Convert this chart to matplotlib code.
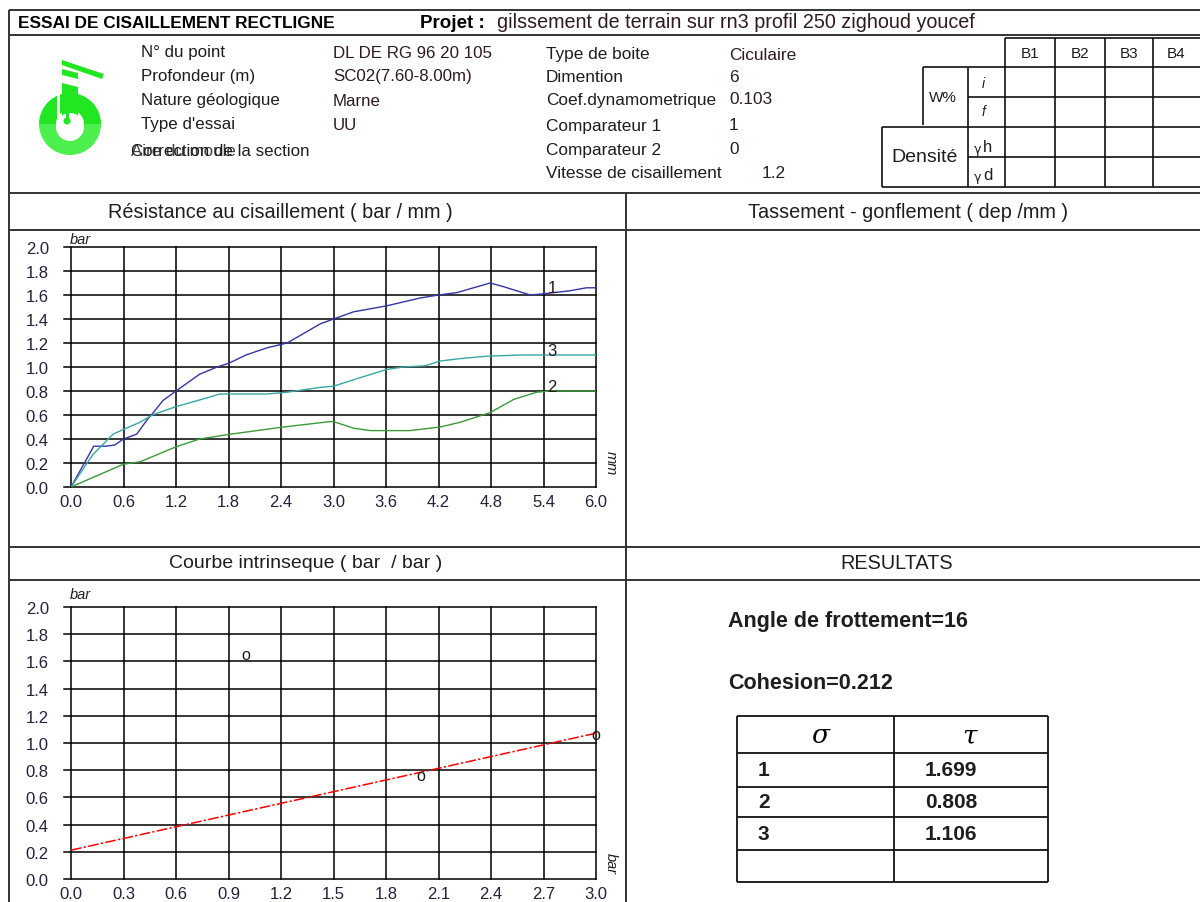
import numpy as np
import matplotlib.pyplot as plt
from matplotlib.patches import Wedge, Circle, Polygon, Rectangle

plt.rcParams['font.family'] = ['Liberation Sans', 'DejaVu Sans']

W, H = 1200, 903

# shear stress (bar) vs horizontal displacement (mm), one curve per sample
disp_1 = [0.0, 0.26, 0.4, 0.5, 0.6, 0.75, 0.88, 0.93, 1.05, 1.2, 1.47, 1.67, 1.8, 2.0, 2.24,
          2.47, 2.85, 3.0, 3.23, 3.61, 3.99, 4.2, 4.41, 4.79, 4.94, 5.25, 5.4, 5.7, 5.89, 6.0]
tau_1 = [0.0, 0.34, 0.34, 0.35, 0.40, 0.44, 0.57, 0.61, 0.72, 0.80, 0.94, 1.00, 1.03, 1.10, 1.16,
         1.20, 1.36, 1.40, 1.46, 1.51, 1.575, 1.60, 1.62, 1.70, 1.67, 1.60, 1.61, 1.635, 1.66, 1.66]
disp_2 = [0.0, 0.6, 0.79, 1.2, 1.47, 1.82, 2.43, 2.96, 3.0, 3.23, 3.42, 3.87, 4.22, 4.45,
          4.79, 5.06, 5.32, 5.49, 6.0]
tau_2 = [0.0, 0.19, 0.21, 0.335, 0.40, 0.44, 0.50, 0.545, 0.545, 0.49, 0.47, 0.47, 0.50, 0.54,
         0.62, 0.73, 0.79, 0.80, 0.80]
disp_3 = [0.0, 0.25, 0.48, 0.6, 0.79, 0.93, 1.2, 1.47, 1.7, 2.24, 2.47, 2.85, 3.0, 3.3, 3.61,
          3.8, 4.05, 4.22, 4.45, 4.75, 5.14, 6.0]
tau_3 = [0.0, 0.27, 0.44, 0.48, 0.54, 0.60, 0.67, 0.725, 0.775, 0.775, 0.79, 0.83, 0.84, 0.91,
         0.98, 1.0, 1.01, 1.05, 1.07, 1.09, 1.10, 1.10]

# intrinsic curve
sigma_pts = [1.0, 2.0, 3.0]
tau_pts = [1.699, 0.808, 1.106]
cohesion = 0.212
friction_angle = 16

shear_xticks = [0.0, 0.6, 1.2, 1.8, 2.4, 3.0, 3.6, 4.2, 4.8, 5.4, 6.0]
intr_xticks = [0.0, 0.3, 0.6, 0.9, 1.2, 1.5, 1.8, 2.1, 2.4, 2.7, 3.0]
stress_yticks = [0.0, 0.2, 0.4, 0.6, 0.8, 1.0, 1.2, 1.4, 1.6, 1.8, 2.0]

info_left = ["N° du point", "Profondeur (m)", "Nature géologique", "Type d'essai"]
info_left_vals = ["DL DE RG 96 20 105", "SC02(7.60-8.00m)", "Marne", "UU"]
info_right = ["Type de boite", "Dimention", "Coef.dynamometrique", "Comparateur 1",
              "Comparateur 2", "Vitesse de cisaillement"]
info_right_vals = ["Ciculaire", "6", "0.103", "1", "0", "1.2"]
box_cols = ["B1", "B2", "B3", "B4"]

TXT = '#1e1e1e'
VAL = '#2e1c1c'
LINE = '#333333'

fig = plt.figure(figsize=(W / 100, H / 100), dpi=100)
bg = fig.add_axes([0, 0, 1, 1])
bg.set_xlim(0, W)
bg.set_ylim(H, 0)
bg.axis('off')


def hline(y, x0, x1, lw=1.1, c=LINE):
    bg.plot([x0, x1], [y, y], color=c, lw=lw, solid_capstyle='butt')


def vline(x, y0, y1, lw=1.1, c=LINE):
    bg.plot([x, x], [y0, y1], color=c, lw=lw, solid_capstyle='butt')


def label(x, y, s, size=12.2, **kw):
    kw.setdefault('va', 'center')
    kw.setdefault('color', TXT)
    bg.text(x, y, s, fontsize=size, **kw)


# frame
vline(9, 11, H, lw=1.4)
hline(11, 9, W, lw=1.4)
hline(36, 9, W, lw=1.4)
hline(194, 9, W, lw=1.4)
hline(231, 9, W, lw=1.4)
hline(548, 9, W, lw=1.4)
hline(581, 9, W, lw=1.4)
vline(626, 194, H, lw=1.4)

label(18, 23, "ESSAI DE CISAILLEMENT RECTLIGNE", size=12.4, fontweight='bold', color='black')
label(420, 23, "Projet :", size=13.5, fontweight='bold', color='black')
label(497, 23, "gilssement de terrain sur rn3 profil 250 zighoud youcef", size=14.2, color=VAL)

# logo
bg.add_patch(Wedge((70, 125), 31, 180, 360, width=17, color='#22e622', lw=0))
bg.add_patch(Wedge((70, 125), 31, 0, 180, width=17, color='#4def4d', lw=0))
bg.add_patch(Polygon([(62, 84), (78, 88), (78, 122), (62, 122)], color='#22e622', lw=0))
bg.add_patch(Rectangle((57, 96), 2.5, 24, color='white', lw=0))
bg.add_patch(Polygon([(62, 61), (62, 66), (102, 80), (104, 75)], color='#22e622', lw=0))
bg.add_patch(Polygon([(62, 70), (62, 76), (78, 80), (78, 74)], color='#22e622', lw=0))
bg.add_patch(Circle((70, 128), 14, color='white', lw=0))
bg.add_patch(Circle((67, 122), 3.5, color='#22e622', lw=0))
bg.add_patch(Rectangle((65.5, 113), 3, 8, color='#22e622', lw=0))

for i, (lab, val) in enumerate(zip(info_left, info_left_vals)):
    y = 53 + i * 24
    label(141, y, lab)
    label(333, y, val, color=VAL)
label(131, 151, "Correction de la section")
label(131, 151, "Aire du moule", alpha=0.85)

right_y = [55, 78, 100, 126, 150, 174]
for lab, val, y in zip(info_right, info_right_vals, right_y):
    label(546, y, lab, size=12.4)
    label(762 if lab.startswith("Vitesse") else 729, y, val, size=12.4, color=VAL)

# W% / densité table
col_x = [1005, 1055, 1105, 1153, 1200]
for x in col_x[:-1]:
    vline(x, 39, 188, lw=1.2, c='#111111')
hline(39, 1005, W, lw=1.2, c='#111111')
hline(68, 923, W, lw=1.2, c='#111111')
hline(98, 968, W, lw=1.2, c='#111111')
hline(128, 882, W, lw=1.2, c='#111111')
hline(158, 968, W, lw=1.2, c='#111111')
hline(188, 882, W, lw=1.2, c='#111111')
vline(923, 68, 126, lw=1.2, c='#111111')
vline(968, 68, 188, lw=1.2, c='#111111')
vline(882, 128, 188, lw=1.2, c='#111111')
for x0, x1, b in zip(col_x[:-1], col_x[1:], box_cols):
    label((x0 + x1) / 2, 54, b, size=11, ha='center')
label(929, 98, "W%", size=11)
label(983, 84, "i", size=10, style='italic', ha='center')
label(983, 112, "f", size=10, style='italic', ha='center')
label(925, 158, "Densité", size=14, ha='center')
label(978, 143, "γ", size=9, ha='center', va='top', family='DejaVu Sans')
label(988, 147, "h", size=12, ha='center')
label(978, 171, "γ", size=9, ha='center', va='top', family='DejaVu Sans')
label(988, 175, "d", size=12, ha='center')

# section titles
label(280, 213, "Résistance au cisaillement ( bar / mm )", size=14.3, ha='center')
label(908, 213, "Tassement - gonflement ( dep /mm )", size=14.3, ha='center')
label(306, 564, "Courbe intrinseque ( bar  / bar )", size=14, ha='center')
label(897, 564, "RESULTATS", size=14.3, ha='center')


def chart(x0, y0, x1, y1, xticks):
    ax = fig.add_axes([x0 / W, 1 - y1 / H, (x1 - x0) / W, (y1 - y0) / H])
    ax.set_xlim(xticks[0], xticks[-1])
    ax.set_ylim(0, 2)
    ax.patch.set_alpha(0)
    for s in ax.spines.values():
        s.set_visible(False)
    ext = 7.0 / (x1 - x0) * (xticks[-1] - xticks[0])
    for x in xticks:
        ax.plot([x, x], [0, 2], color='black', lw=1.1, clip_on=False, zorder=1)
    for y in stress_yticks:
        ax.plot([xticks[0] - ext, xticks[-1]], [y, y], color='black', lw=1.1, clip_on=False, zorder=1)
    ax.set_xticks(xticks)
    ax.set_xticklabels([f"{v:.1f}" for v in xticks])
    ax.set_yticks(stress_yticks)
    ax.set_yticklabels([f"{v:.1f}" for v in stress_yticks])
    ax.tick_params(axis='y', length=0, labelsize=12, labelcolor='#22223a', pad=16)
    ax.tick_params(axis='x', length=0, labelsize=12, labelcolor='#22223a', pad=5)
    return ax


ax1 = chart(71, 248, 596, 488, shear_xticks)
ax1.plot(disp_1, tau_1, color='#3535a5', lw=1.0, zorder=3)
ax1.plot(disp_2, tau_2, color='#3a9a3a', lw=1.0, zorder=3)
ax1.plot(disp_3, tau_3, color='#3aa5a5', lw=1.0, zorder=3)
for name, d, t in (("1", disp_1, tau_1), ("2", disp_2, tau_2), ("3", disp_3, tau_3)):
    ax1.text(5.5, np.interp(5.5, d, t) + 0.04, name, fontsize=12, ha='center', va='center',
             color='#2a1a1a', zorder=4)
label(70, 240, "bar", size=10.5, style='italic')
label(611, 463, "mm", size=10.5, style='italic', rotation=-90, ha='center')

ax2 = chart(71, 608, 596, 880, intr_xticks)
xs = np.array([intr_xticks[0], intr_xticks[-1]])
ax2.plot(xs, cohesion + xs * np.tan(np.radians(friction_angle)), color='red', lw=1.1,
         dashes=(7, 1.5, 1.5, 1.5), zorder=3)
for s, t in zip(sigma_pts, tau_pts):
    ax2.text(s, t - 0.045, "o", fontsize=11.5, ha='center', va='center', color='#1a1a1a', zorder=4)
label(70, 595, "bar", size=10.5, style='italic')
label(611, 864, "bar", size=10.5, style='italic', rotation=-90, ha='center')

# results
label(728, 622, "Angle de frottement=16", size=15.5, fontweight='bold')
label(728, 684, "Cohesion=0.212", size=15.5, fontweight='bold')
tab_rows = [717, 754, 788, 818, 851, 883]
for y in tab_rows:
    hline(y, 737, 1048, lw=1.3, c='#111111')
for x in (737, 894, 1048):
    vline(x, 717, 883, lw=1.3, c='#111111')
bg.text(820, 736, "σ", fontsize=19, style='italic', family='DejaVu Serif', ha='center', va='center')
bg.text(970, 736, "τ", fontsize=19, style='italic', family='DejaVu Serif', ha='center', va='center')
for i, t in enumerate(tau_pts):
    y = (tab_rows[i + 1] + tab_rows[i + 2]) / 2
    label(758, y, str(i + 1), size=15, fontweight='bold')
    label(925, y, f"{t:.3f}", size=15, fontweight='bold')

fig.savefig("out.png", dpi=100)
